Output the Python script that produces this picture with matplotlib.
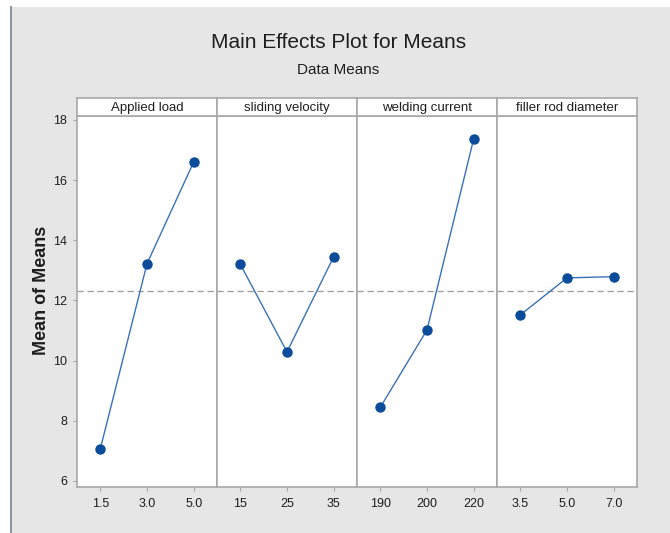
import numpy as np
import matplotlib

matplotlib.use('Agg')
import matplotlib.pyplot as plt

# Factor names and their levels (tick labels)
factors = ["Applied load", "sliding velocity", "welding current", "filler rod diameter"]
load_levels = ["1.5", "3.0", "5.0"]
velocity_levels = ["15", "25", "35"]
current_levels = ["190", "200", "220"]
diameter_levels = ["3.5", "5.0", "7.0"]

# Mean of means
load_means = [7.07, 13.22, 16.60]
velocity_means = [13.20, 10.29, 13.45]
current_means = [8.45, 11.02, 17.37]
diameter_means = [11.52, 12.75, 12.79]

levels = [load_levels, velocity_levels, current_levels, diameter_levels]
means = [load_means, velocity_means, current_means, diameter_means]
grand_mean = 12.3

BG = '#e6e6e6'
EDGE = '#a8a8a8'
LINE = '#3b72b5'
MARK = '#0b4c9a'
TXT = '#1e1e1e'
FONT = ['Liberation Sans', 'DejaVu Sans']
plt.rcParams['font.family'] = FONT

fig = plt.figure(figsize=(6.7, 5.33), dpi=100)
fig.patch.set_facecolor('white')

# grey frame like the Minitab graph window
frame = fig.add_axes([11 / 670, 0, 1 - 11 / 670, 1 - 7 / 533])
frame.set_facecolor(BG)
frame.set_xticks([])
frame.set_yticks([])
for side in ['top', 'right', 'bottom']:
    frame.spines[side].set_visible(False)
frame.spines['left'].set_color('#8f98a8')
frame.spines['left'].set_linewidth(1.5)

left, width = 77 / 670, 140 / 670
bottom, top = 1 - 487 / 533, 1 - 116 / 533
strip_top = 1 - 98 / 533

for i, (name, labs, vals) in enumerate(zip(factors, levels, means)):
    x0 = left + i * width
    ax = fig.add_axes([x0, bottom, width, top - bottom])
    ax.set_facecolor('white')
    x = np.arange(len(labs))
    ax.axhline(grand_mean, color='#9a9a9a', linestyle=(0, (5, 3)), linewidth=0.9, zorder=1)
    ax.plot(x, vals, color=LINE, linewidth=1.0, zorder=2)
    ax.plot(x, vals, 'o', color=MARK, markersize=6.5, zorder=3)
    ax.set_xlim(-0.5, 2.5)
    ax.set_ylim(5.8, 18.13)
    ax.set_xticks(x)
    ax.set_xticklabels(labs, fontsize=9, color=TXT)
    ax.tick_params(axis='x', length=3, color=EDGE, pad=5)
    if i == 0:
        ax.set_yticks([6, 8, 10, 12, 14, 16, 18])
        ax.set_yticklabels(['6', '8', '10', '12', '14', '16', '18'], fontsize=9, color=TXT)
        ax.tick_params(axis='y', length=3, color=EDGE, pad=4)
    else:
        ax.set_yticks([])
    for sp in ax.spines.values():
        sp.set_color(EDGE)
        sp.set_linewidth(1.2)

    # strip header above each panel
    sx = fig.add_axes([x0, top, width, strip_top - top])
    sx.set_facecolor('white')
    sx.set_xticks([])
    sx.set_yticks([])
    for sp in sx.spines.values():
        sp.set_color(EDGE)
        sp.set_linewidth(1.2)
    sx.text(0.5, 0.45, name, ha='center', va='center', transform=sx.transAxes,
            fontsize=9.5, color=TXT)

fig.text(42 / 670, 1 - 290 / 533, "Mean of Means", rotation=90, ha='center', va='center',
         fontsize=13, fontweight='bold', color=TXT)
fig.text(0.505, 1 - 42 / 533, "Main Effects Plot for Means", ha='center', va='center',
         fontsize=15, color=TXT)
fig.text(0.505, 1 - 70 / 533, "Data Means", ha='center', va='center',
         fontsize=11, color=TXT)

fig.savefig('out.png', dpi=100, facecolor=fig.get_facecolor())
